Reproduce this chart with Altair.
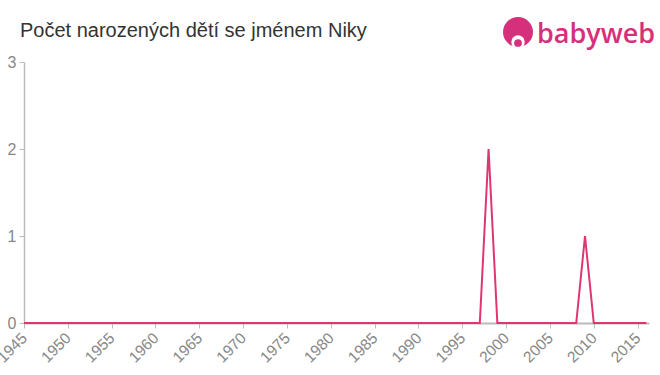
import altair as alt
import pandas as pd

years = list(range(1945, 2017))
counts = [0] * len(years)
counts[years.index(1998)] = 2
counts[years.index(2009)] = 1

title_text = "Počet narozených dětí se jménem Niky"
logo_text = "babyweb"

df = pd.DataFrame({"year": years, "count": counts})

x_scale = alt.Scale(domain=[1945, 2016.3], nice=False, zero=False)
y_scale = alt.Scale(domain=[0, 3], nice=False)

line = alt.Chart(df).mark_line(color="#e0366f", strokeWidth=2, clip=False).encode(
    x=alt.X("year:Q", scale=x_scale,
            axis=alt.Axis(values=list(range(1945, 2016, 5)), format="d", labelAngle=-45,
                          labelAlign="right", labelBaseline="middle", labelFontSize=15.5,
                          labelColor="#888888", domainColor="#bbbbbb", tickColor="#bbbbbb",
                          domainWidth=2, tickSize=5, labelPadding=7, grid=False, title=None,
                          labelFont="Liberation Sans", labelOverlap=False, labelFlush=False)),
    y=alt.Y("count:Q", scale=y_scale,
            axis=alt.Axis(values=[0, 1, 2, 3], labelFontSize=16, labelColor="#888888",
                          domainColor="#bbbbbb", tickColor="#bbbbbb", tickSize=5,
                          domainWidth=1.5, labelPadding=3, grid=False, title=None,
                          labelFont="Liberation Sans")),
)

title = alt.Chart(pd.DataFrame({"t": [title_text]})).mark_text(
    align="left", baseline="alphabetic", fontSize=20, font="Liberation Sans", color="#333333"
).encode(x=alt.value(-4), y=alt.value(-25), text="t:N")

logo_circle = alt.Chart(pd.DataFrame({"a": [1]})).mark_point(
    filled=True, shape="circle", size=900, color="#d6307c", opacity=1
).encode(x=alt.value(494), y=alt.value(-30))

logo_face = alt.Chart(pd.DataFrame({"a": [1]})).mark_point(
    filled=True, shape="circle", size=180, color="white", opacity=1
).encode(x=alt.value(494), y=alt.value(-20))

logo_mouth = alt.Chart(pd.DataFrame({"a": [1]})).mark_point(
    filled=True, shape="circle", size=60, color="#d6307c", opacity=1
).encode(x=alt.value(494), y=alt.value(-19))

logo = alt.Chart(pd.DataFrame({"t": [logo_text]})).mark_text(
    align="left", baseline="alphabetic", fontSize=27, fontWeight=600, font="Open Sans",
    color="#d6307c"
).encode(x=alt.value(513), y=alt.value(-19), text="t:N")

chart = alt.layer(line, title, logo_circle, logo_face, logo_mouth, logo).properties(
    width=625, height=261,
    padding={"left": 24, "top": 62, "right": 11, "bottom": 52},
    autosize=alt.AutoSizeParams(type="none"),
).configure(background="white", view=alt.ViewConfig(stroke=None))

chart.save("out.html", embed_options={"renderer": "svg", "actions": False})
